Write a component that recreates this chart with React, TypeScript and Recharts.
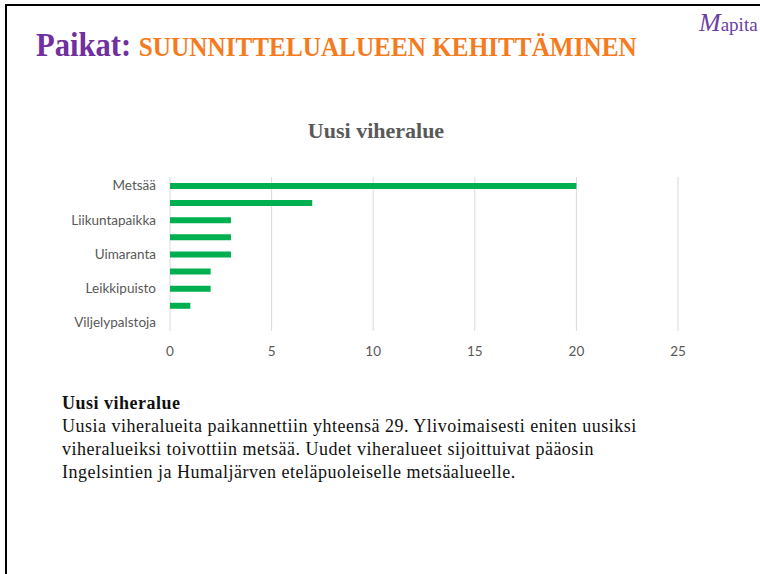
import React from "react";
import { BarChart, Bar, XAxis, YAxis, CartesianGrid } from "recharts";

// categories top to bottom; every other label is hidden in the original chart
const categories = [
  "Metsää",
  "Puisto",
  "Liikuntapaikka",
  "Niitty",
  "Uimaranta",
  "Koirapuisto",
  "Leikkipuisto",
  "Muu",
  "Viljelypalstoja",
];
const counts = [20, 7, 3, 3, 3, 2, 2, 1, 0];
const xTicks = [0, 5, 10, 15, 20, 25];

const data = categories.map((name, i) => ({ name, value: counts[i] }));

const purple = "#7030A0";
const orange = "#F47B20";
const gray = "#595959";

export default function App() {
  return (
    <div
      style={{
        position: "absolute",
        left: 0,
        top: 0,
        width: 760,
        height: 574,
        background: "#fff",
        overflow: "hidden",
      }}
    >
      {/* slide frame */}
      <div style={{ position: "absolute", left: 5, top: 4, width: 760, height: 580, borderLeft: "2px solid #000", borderTop: "2px solid #000" }} />

      <div
        style={{
          position: "absolute",
          left: 36,
          top: 25,
          whiteSpace: "nowrap",
          fontFamily: "'Liberation Serif', serif",
          fontWeight: "bold",
          lineHeight: "40px",
          transform: "scaleX(0.9)",
          transformOrigin: "left center",
        }}
      >
        <span style={{ color: purple, fontSize: 34 }}>Paikat: </span>
        <span style={{ color: orange, fontSize: 28 }}>SUUNNITTELUALUEEN KEHITTÄMINEN</span>
      </div>

      <div
        style={{
          position: "absolute",
          left: 699,
          top: 8,
          whiteSpace: "nowrap",
          color: "#6b3fa5",
          fontFamily: "'Liberation Serif', serif",
          fontSize: 19,
        }}
      >
        <span style={{ fontStyle: "italic", fontSize: 26 }}>M</span>apita
      </div>

      <div
        style={{
          position: "absolute",
          left: 0,
          width: 752,
          top: 118,
          textAlign: "center",
          color: gray,
          fontFamily: "'Liberation Serif', serif",
          fontWeight: "bold",
          fontSize: 22,
        }}
      >
        Uusi viheralue
      </div>

      <div style={{ position: "absolute", left: 0, top: 100 }}>
        <BarChart
          width={760}
          height={280}
          layout="vertical"
          data={data}
          margin={{ top: 77, right: 82, left: 0, bottom: 19 }}
        >
          <CartesianGrid horizontal={false} stroke="#d9d9d9" />
          <XAxis
            type="number"
            domain={[0, 25]}
            ticks={xTicks}
            axisLine={false}
            tickLine={false}
            height={30}
            tick={{ fill: gray, fontSize: 13.5, fontFamily: "Lato, sans-serif" }}
            tickMargin={9}
          />
          <YAxis
            type="category"
            dataKey="name"
            width={170}
            interval={1}
            axisLine={false}
            tickLine={false}
            tick={{ fill: gray, fontSize: 13.5, fontFamily: "Lato, sans-serif" }}
            tickMargin={8}
          />
          <Bar dataKey="value" fill="#00B050" barSize={6} isAnimationActive={false} />
        </BarChart>
      </div>

      <div
        style={{
          position: "absolute",
          left: 62,
          top: 392,
          color: "#111",
          fontFamily: "'Liberation Serif', serif",
          fontSize: 18,
          letterSpacing: 0.5,
          lineHeight: "23px",
          whiteSpace: "nowrap",
        }}
      >
        <div style={{ fontWeight: "bold" }}>Uusi viheralue</div>
        <div>Uusia viheralueita paikannettiin yhteensä 29. Ylivoimaisesti eniten uusiksi</div>
        <div>viheralueiksi toivottiin metsää. Uudet viheralueet sijoittuivat pääosin</div>
        <div>Ingelsintien ja Humaljärven eteläpuoleiselle metsäalueelle.</div>
      </div>
    </div>
  );
}
